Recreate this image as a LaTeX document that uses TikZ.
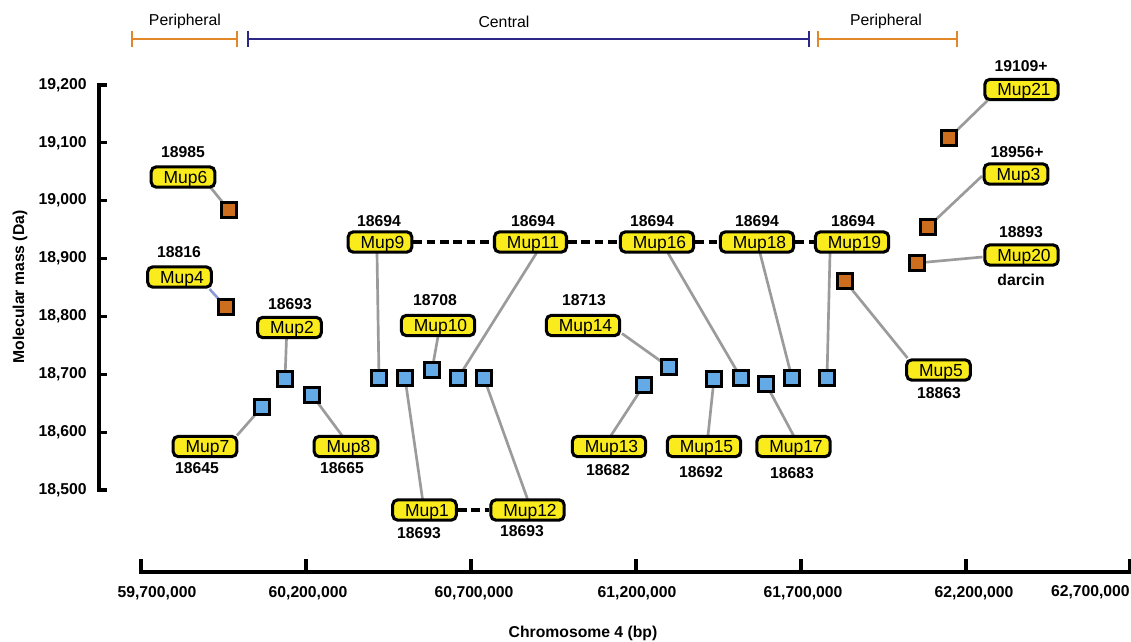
\documentclass[tikz,border=0pt]{standalone}
\usepackage{fontspec}
\setmainfont{Liberation Sans}
\usetikzlibrary{backgrounds,calc}
\definecolor{boxyellow}{RGB}{250,236,28}
\definecolor{sqorange}{RGB}{204,110,30}
\definecolor{sqblue}{RGB}{100,170,230}
\definecolor{linegray}{RGB}{155,155,155}
\definecolor{lineblue}{RGB}{140,155,215}
\definecolor{brorange}{RGB}{226,136,40}
\definecolor{brnavy}{RGB}{45,40,135}
\tikzset{
  mupbox/.style={draw=black, line width=2.3pt, fill=boxyellow, rounded corners=3.75pt,
    minimum height=15.2pt, inner xsep=5.6pt, inner ysep=0pt, text depth=0pt, text height=9.4pt,
    font=\fontsize{13.1}{13.1}\selectfont, execute at begin node={\hspace*{3.75pt}}},
  osq/.style={draw=black, line width=2pt, fill=sqorange, minimum size=11.25pt, inner sep=0pt},
  bsq/.style={draw=black, line width=2pt, fill=sqblue, minimum size=11.25pt, inner sep=0pt},
  num/.style={font=\bfseries\fontsize{11.8}{11.8}\selectfont, inner sep=0pt},
  ylab/.style={num, anchor=east},
  xlab/.style={num},
  conn/.style={draw=linegray, line width=2pt},
  dashconn/.style={draw=black, line width=2.4pt, dash pattern=on 6.5pt off 3.5pt},
  axisline/.style={line width=2.3pt, line cap=butt},
  brlab/.style={font=\fontsize{11.85}{11.85}\selectfont, inner sep=0pt}
}
\begin{document}
\begin{tikzpicture}[x=0.75pt,y=-0.75pt]
\useasboundingbox (0,0) rectangle (1131,642);

% brackets
\draw[brorange, line width=1.3pt] (132,31) -- (132,47) (132,39) -- (237,39) (237,31) -- (237,47);
\draw[brnavy, line width=1.3pt] (248,31) -- (248,47) (248,39) -- (809,39) (809,31) -- (809,47);
\draw[brorange, line width=1.3pt] (818,31) -- (818,47) (818,39) -- (957,39) (957,31) -- (957,47);
\node[brlab] (pl) at (185,21.5) {Peripheral};
\node[brlab] (ce) at (504,21.5) {Central};
\node[brlab] (pr) at (886,21.5) {Peripheral};

% y axis
\draw[axisline] (107,85) -- (99,85) -- (99,490) -- (107,490);
\foreach \yy in {142.9,200.7,258.6,316.4,374.3,432.1} \draw[axisline] (99,\yy) -- (107,\yy);
\node[ylab] (y1) at (87,85) {19,200};
\node[ylab] (y2) at (87,142.9) {19,100};
\node[ylab] (y3) at (87,200.7) {19,000};
\node[ylab] (y4) at (87,258.6) {18,900};
\node[ylab] (y5) at (87,316.4) {18,800};
\node[ylab] (y6) at (87,374.3) {18,700};
\node[ylab] (y7) at (87,432.1) {18,600};
\node[ylab] (y8) at (87,490) {18,500};
\node[num, rotate=90] (ytitle) at (20,287) {Molecular mass (Da)};

% x axis
\draw[axisline] (141,559) -- (141,572) -- (1130,572) -- (1130,559);
\foreach \xx in {306,471,636,801,966} \draw[axisline] (\xx,559) -- (\xx,572);
\node[xlab] (x1) at (157,593) {59,700,000};
\node[xlab] (x2) at (308,593) {60,200,000};
\node[xlab] (x3) at (474,593) {60,700,000};
\node[xlab] (x4) at (637,593) {61,200,000};
\node[xlab] (x5) at (803,593) {61,700,000};
\node[xlab] (x6) at (974,593) {62,200,000};
\node[xlab, anchor=east] (x7) at (1130,592) {62,700,000};
\node[num] (xtitle) at (583,633) {Chromosome 4 (bp)};

% squares
\node[osq] (s6) at (229,210) {};
\node[osq] (s4) at (226,307) {};
\node[osq] (s21) at (949,138) {};
\node[osq] (s3) at (928,227) {};
\node[osq] (s20) at (917,263) {};
\node[osq] (s5) at (845,281) {};
\node[bsq] (s7) at (262,407) {};
\node[bsq] (s2) at (285,379) {};
\node[bsq] (s8) at (312,395) {};
\node[bsq] (s9) at (379,378) {};
\node[bsq] (s1) at (405,378) {};
\node[bsq] (s10) at (432,370) {};
\node[bsq] (s11) at (458,378) {};
\node[bsq] (s12) at (484,378) {};
\node[bsq] (s13) at (644,385) {};
\node[bsq] (s14) at (669,367) {};
\node[bsq] (s15) at (714,379) {};
\node[bsq] (s16) at (741,378) {};
\node[bsq] (s17) at (766,384) {};
\node[bsq] (s18) at (792,378) {};
\node[bsq] (s19) at (827,378) {};

% boxes
\node[mupbox] (m6) at (183,177) {Mup6};
\node[mupbox] (m4) at (179.5,277) {Mup4};
\node[mupbox] (m2) at (289.5,327.5) {Mup2};
\node[mupbox] (m7) at (205,446.5) {Mup7};
\node[mupbox] (m8) at (346,446.5) {Mup8};
\node[mupbox] (m9) at (380,242) {Mup9};
\node[mupbox] (m10) at (438,325.5) {Mup10};
\node[mupbox] (m11) at (530.5,242) {Mup11};
\node[mupbox] (m1) at (424.5,510) {Mup1};
\node[mupbox] (m12) at (527.5,510) {Mup12};
\node[mupbox] (m14) at (583,325.5) {Mup14};
\node[mupbox] (m13) at (609,446.5) {Mup13};
\node[mupbox] (m15) at (704,446.5) {Mup15};
\node[mupbox] (m16) at (657,242) {Mup16};
\node[mupbox] (m17) at (793.5,446.5) {Mup17};
\node[mupbox] (m18) at (757,242) {Mup18};
\node[mupbox] (m19) at (852,242) {Mup19};
\node[mupbox] (m5) at (938.5,370) {Mup5};
\node[mupbox] (m21) at (1021.5,89.5) {Mup21};
\node[mupbox] (m3) at (1016,174) {Mup3};
\node[mupbox] (m20) at (1021.5,255) {Mup20};

% mass labels
\node[num] (n6) at (183,152) {18985};
\node[num] (n4) at (179,252) {18816};
\node[num] (n2) at (290,304) {18693};
\node[num] (n7) at (197,468) {18645};
\node[num] (n8) at (342,468) {18665};
\node[num] (n9) at (379,221) {18694};
\node[num] (n10) at (435,300) {18708};
\node[num] (n11) at (533,221) {18694};
\node[num] (n1) at (419,533) {18693};
\node[num] (n12) at (522,531) {18693};
\node[num] (n14) at (584,300) {18713};
\node[num] (n13) at (608,470) {18682};
\node[num] (n15) at (701,472) {18692};
\node[num] (n16) at (652,221) {18694};
\node[num] (n17) at (792,473) {18683};
\node[num] (n18) at (757,221) {18694};
\node[num] (n19) at (853,221) {18694};
\node[num] (n5) at (939,393) {18863};
\node[num] (n21) at (1021,66) {19109+};
\node[num] (n3) at (1017,152) {18956+};
\node[num] (n20) at (1021,232) {18893};
\node[num] (d20) at (1021,280) {darcin};

\begin{pgfonlayer}{background}
\fill[white] (0,0) rectangle (1131,642);
\draw[conn] (s6.center) -- ([shift={(28,11)}]m6.center);
\draw[conn, draw=lineblue] (s4.center) -- ([shift={(30,12)}]m4.center);
\draw[conn] (s2.center) -- ([shift={(-3,11)}]m2.center);
\draw[conn] (s7.center) -- ([shift={(32,-11)}]m7.center);
\draw[conn] (s8.center) -- ([shift={(-4,-11)}]m8.center);
\draw[conn] (s9.center) -- ([shift={(-3,11)}]m9.center);
\draw[conn] (s10.center) -- ([shift={(0,11)}]m10.center);
\draw[conn] (s11.center) -- ([shift={(6,11)}]m11.center);
\draw[conn] (s1.center) -- ([shift={(-2,-11)}]m1.center);
\draw[conn] (s12.center) -- ([shift={(0,-11)}]m12.center);
\draw[conn] (s14.center) -- ([shift={(39,8)}]m14.center);
\draw[conn] (s13.center) -- ([shift={(2,-11)}]m13.center);
\draw[conn] (s15.center) -- ([shift={(4,-11)}]m15.center);
\draw[conn] (s16.center) -- ([shift={(11,11)}]m16.center);
\draw[conn] (s17.center) -- ([shift={(0,-11)}]m17.center);
\draw[conn] (s18.center) -- ([shift={(3,11)}]m18.center);
\draw[conn] (s19.center) -- ([shift={(-22,11)}]m19.center);
\draw[conn] (s5.center) -- ([shift={(-31,-12)}]m5.center);
\draw[conn] (s21.center) -- ([shift={(-34,11)}]m21.center);
\draw[conn] (s3.center) -- ([shift={(-34,2)}]m3.center);
\draw[conn] (s20.center) -- ([shift={(-39,2)}]m20.center);
\draw[dashconn] (m9.east) -- (m11.west);
\draw[dashconn] (m11.east) -- (m16.west);
\draw[dashconn] (m16.east) -- (m18.west);
\draw[dashconn] (m18.east) -- (m19.west);
\draw[dashconn] (m1.east) -- (m12.west);
\end{pgfonlayer}
\end{tikzpicture}
\end{document}
